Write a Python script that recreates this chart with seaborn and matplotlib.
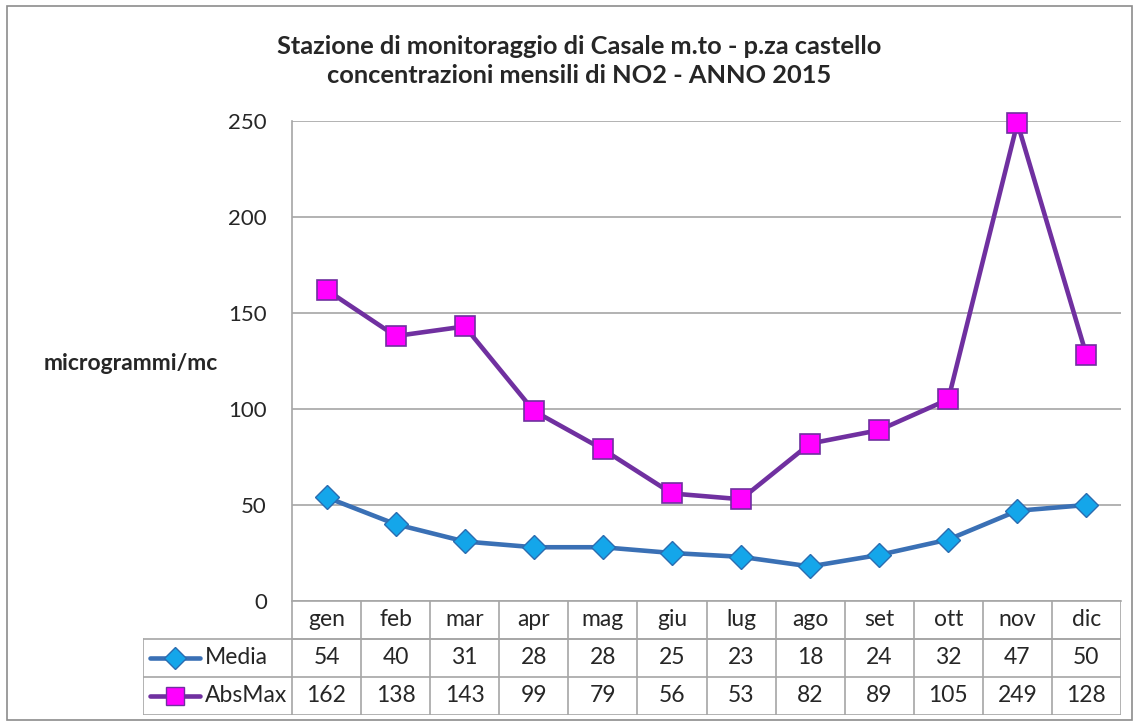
import numpy as np
import pandas as pd
import matplotlib
matplotlib.use("Agg")
import matplotlib.pyplot as plt
import seaborn as sns
from matplotlib.patches import Rectangle

# ─── data ────────────────────────────────────────────────────────────────
months = ["gen", "feb", "mar", "apr", "mag", "giu", "lug", "ago", "set", "ott", "nov", "dic"]
media = [54, 40, 31, 28, 28, 25, 23, 18, 24, 32, 47, 50]
absmax = [162, 138, 143, 99, 79, 56, 53, 82, 89, 105, 249, 128]
yticks = [0, 50, 100, 150, 200, 250]

title = "Stazione di monitoraggio di Casale m.to - p.za castello\nconcentrazioni mensili di NO2 - ANNO 2015"
ylabel = "microgrammi/mc"

sns.set_theme(style="white")
plt.rcParams["font.family"] = ["Lato", "DejaVu Sans"]

W, H = 1137, 724
fig = plt.figure(figsize=(W / 100, H / 100), dpi=100)

# pixel layout
x0, x1 = 292, 1121      # plot area
y_top, y_bot = 121, 601
leg_x = 143              # table legend column left edge
row_h = 38
col_w = (x1 - x0) / 12

grid_c = "#a6a6a6"
media_line, media_face, media_edge = "#3a70b5", "#14a6ea", "#2b6cb0"
max_line, max_face, max_edge = "#7030a0", "#ff00ff", "#7030a0"

ax = fig.add_axes([x0 / W, 1 - y_bot / H, (x1 - x0) / W, (y_bot - y_top) / H])
df = pd.DataFrame({"idx": np.arange(len(months)), "Media": media, "AbsMax": absmax})

sns.lineplot(data=df, x="idx", y="AbsMax", ax=ax, color=max_line, linewidth=3.3,
             marker="s", markersize=15, markerfacecolor=max_face,
             markeredgecolor=max_edge, markeredgewidth=1.2, zorder=4, clip_on=False)
sns.lineplot(data=df, x="idx", y="Media", ax=ax, color=media_line, linewidth=3.3,
             marker="D", markersize=12, markerfacecolor=media_face,
             markeredgecolor=media_edge, markeredgewidth=1.0, zorder=4, clip_on=False)

ax.set_xlim(-0.5, 11.5)
ax.set_ylim(0, 250)
ax.set_yticks(yticks)
ax.set_yticklabels([str(v) for v in yticks], fontsize=16)
ax.tick_params(axis="y", length=0, pad=18)
ax.set_xticks([])
ax.set_xlabel("")
ax.set_ylabel("")
ax.yaxis.grid(True, color=grid_c, linewidth=1.2)
ax.set_axisbelow(True)
for s in ["top", "right"]:
    ax.spines[s].set_visible(False)
for s in ["left", "bottom"]:
    ax.spines[s].set_color(grid_c)
    ax.spines[s].set_linewidth(1.2)

# ─── data table below the plot ──────────────────────────────────────────
tab_h = 3 * row_h
tax = fig.add_axes([leg_x / W, 1 - (y_bot + tab_h) / H, (x1 - leg_x) / W, tab_h / H])
left_units = (x0 - leg_x) / col_w
tax.set_xlim(-0.5 - left_units, 11.5)
tax.set_ylim(3, 0)
tax.axis("off")

lk = dict(color=grid_c, linewidth=1.2)
# horizontal rules
tax.plot([-0.5, 11.5], [1, 1], **lk)
tax.plot([-0.5 - left_units, 11.5], [1, 1], **lk)
tax.plot([-0.5 - left_units, 11.5], [2, 2], **lk)
tax.plot([-0.5 - left_units, 11.5], [3, 3], **lk)
# vertical rules
for k in range(13):
    tax.plot([k - 0.5, k - 0.5], [0, 3], **lk)
tax.plot([-0.5 - left_units] * 2, [1, 3], **lk)

for i, m in enumerate(months):
    tax.text(i, 0.5, m, ha="center", va="center", fontsize=16.5)
    tax.text(i, 1.5, str(media[i]), ha="center", va="center", fontsize=16.5)
    tax.text(i, 2.5, str(absmax[i]), ha="center", va="center", fontsize=16.5)

# legend keys inside the table
lx0 = -0.5 - left_units + 0.1
lx1 = lx0 + 0.72
tax.plot([lx0, lx1], [1.5, 1.5], color=media_line, linewidth=3.3)
tax.plot([(lx0 + lx1) / 2], [1.5], marker="D", markersize=11, color=media_face,
         markeredgecolor=media_edge, markeredgewidth=1.0)
tax.text(lx1 + 0.07, 1.5, "Media", ha="left", va="center", fontsize=16.5)
tax.plot([lx0, lx1], [2.5, 2.5], color=max_line, linewidth=3.3)
tax.plot([(lx0 + lx1) / 2], [2.5], marker="s", markersize=13, color=max_face,
         markeredgecolor=max_edge, markeredgewidth=1.0)
tax.text(lx1 + 0.07, 2.5, "AbsMax", ha="left", va="center", fontsize=16.5)

# ─── titles and frame ───────────────────────────────────────────────────
fig.text(579 / W, 1 - 61 / H, title, ha="center", va="center", fontsize=18.3,
         fontweight="bold", linespacing=1.3)
fig.text(131 / W, 1 - 363 / H, ylabel, ha="center", va="center", fontsize=16.5,
         fontweight="bold")
fig.patches.append(Rectangle((7 / W, 1 - 720 / H), 1125 / W, 714 / H,
                             transform=fig.transFigure, fill=False,
                             edgecolor="#8c8c8c", linewidth=1.2))

fig.savefig("out.png", dpi=100)
